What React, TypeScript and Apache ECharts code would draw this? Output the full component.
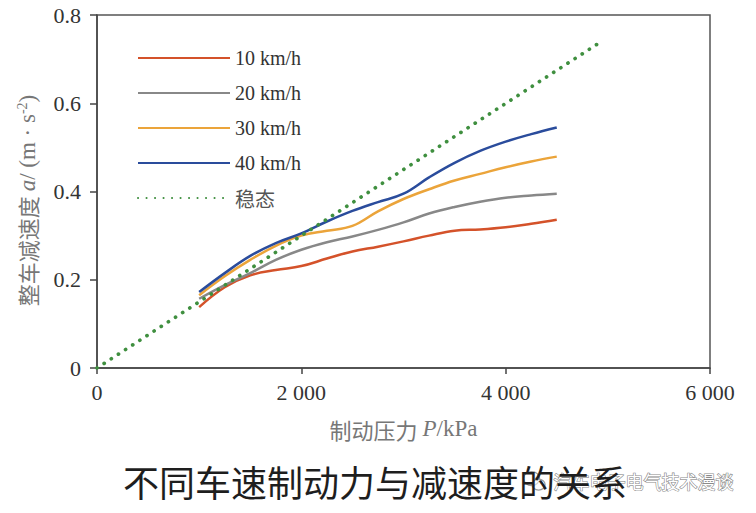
import React, { useEffect, useRef } from "react";
import * as echarts from "echarts";

const pressures = [1000, 1250, 1500, 1750, 2000, 2250, 2500, 2750, 3000, 3250, 3500, 3750, 4000, 4250, 4500];
const decel10 = [0.138, 0.183, 0.21, 0.222, 0.231, 0.248, 0.264, 0.275, 0.287, 0.300, 0.311, 0.314, 0.319, 0.327, 0.336];
const decel20 = [0.157, 0.188, 0.215, 0.245, 0.268, 0.285, 0.298, 0.313, 0.33, 0.35, 0.365, 0.377, 0.386, 0.391, 0.395];
const decel30 = [0.165, 0.208, 0.245, 0.277, 0.300, 0.311, 0.322, 0.355, 0.383, 0.405, 0.425, 0.44, 0.455, 0.468, 0.479];
const decel40 = [0.172, 0.215, 0.254, 0.283, 0.305, 0.332, 0.356, 0.376, 0.395, 0.432, 0.465, 0.492, 0.513, 0.53, 0.545];
const stableP = [0, 4950];
const stableA = [0, 0.742];
const seriesNames = ["10 km/h", "20 km/h", "30 km/h", "40 km/h", "稳态"];
const xTicks = ["0", "2 000", "4 000", "6 000"];

const colors = ["#d4522a", "#888888", "#eba43a", "#2a4c9c", "#3f8f3f"];

const serif = "Liberation Serif";
const cjk = "Noto Sans CJK SC";

function pairs(xs: number[], ys: number[]) {
  return xs.map((x, i) => [x, ys[i]]);
}

export default function App() {
  const ref = useRef<HTMLDivElement>(null);
  useEffect(() => {
    if (!ref.current) return;
    const chart = echarts.init(ref.current, null, { renderer: "svg" });
    const curves = [decel10, decel20, decel30, decel40];
    const series: any[] = curves.map((vals, i) => ({
      name: seriesNames[i],
      type: "line",
      data: pairs(pressures, vals),
      smooth: 0.4,
      symbol: "none",
      lineStyle: { color: colors[i], width: 2.5 },
      itemStyle: { color: colors[i] },
    }));
    series.push({
      name: seriesNames[4],
      type: "line",
      data: pairs(stableP, stableA),
      symbol: "none",
      lineStyle: { color: colors[4], width: 3.7, type: [0.1, 8.4], cap: "round" },
      itemStyle: { color: colors[4] },
    });
    chart.setOption({
      animation: false,
      backgroundColor: "#ffffff",
      grid: {
        left: 97,
        right: 46,
        top: 15,
        bottom: 145,
        containLabel: false,
        show: true,
        borderColor: "#555",
        borderWidth: 1.5,
      },
      title: {
        text: "不同车速制动力与减速度的关系",
        left: 370,
        textAlign: "center",
        top: 458,
        textStyle: {
          fontFamily: cjk,
          fontSize: 36,
          fontWeight: "normal",
          color: "#1e1e1e",
        },
      },
      legend: {
        data: seriesNames,
        orient: "vertical",
        left: 132,
        top: 43,
        itemWidth: 92,
        itemHeight: 14,
        itemGap: 15,
        itemStyle: { opacity: 0 },
        textStyle: { fontFamily: serif, fontSize: 20, color: "#333", rich: { c: { fontFamily: cjk, fontSize: 20, color: "#555" } } },
        formatter: (n: string) => (n === "稳态" ? "{c|稳态}" : n),
      },
      xAxis: {
        type: "value",
        min: 0,
        max: 6000,
        interval: 2000,
        name: "{c|制动压力 }{i|P}{l|/kPa}",
        nameLocation: "middle",
        nameGap: 49,
        nameTextStyle: {
          rich: {
            c: { fontFamily: cjk, fontSize: 22, color: "#777" },
            i: { fontFamily: serif, fontSize: 23, color: "#777", fontStyle: "italic" },
            l: { fontFamily: serif, fontSize: 23, color: "#777" },
          },
        },
        axisLine: { lineStyle: { color: "#444", width: 1.5 } },
        axisTick: { show: true, length: 6, lineStyle: { color: "#444", width: 1.5 } },
        axisLabel: {
          margin: 13,
          fontFamily: serif,
          fontSize: 22,
          color: "#333",
          formatter: (v: number) => xTicks[Math.round(v / 2000)] ?? String(v),
        },
        splitLine: { show: false },
      },
      yAxis: {
        type: "value",
        min: 0,
        max: 0.8,
        interval: 0.2,
        name: "{c|整车减速度 }{i|a}{l|/ (m · s}{s|-2}{l|)}",
        nameLocation: "middle",
        nameRotate: 90,
        nameGap: 58,
        nameTextStyle: {
          padding: [0, 18, 0, 0],
          rich: {
            c: { fontFamily: cjk, fontSize: 22, color: "#777" },
            i: { fontFamily: serif, fontSize: 23, color: "#777", fontStyle: "italic" },
            l: { fontFamily: serif, fontSize: 23, color: "#777" },
            s: { fontFamily: serif, fontSize: 14, color: "#777", verticalAlign: "top", padding: [0, 0, 10, 0] },
          },
        },
        axisLine: { show: true, lineStyle: { color: "#444", width: 1.5 } },
        axisTick: { show: true, length: 7, lineStyle: { color: "#444", width: 1.5 } },
        axisLabel: { margin: 16, fontFamily: serif, fontSize: 22, color: "#333" },
        splitLine: { show: false },
      },
      graphic: [
        {
          type: "group",
          left: 523,
          top: 471,
          children: [
            { type: "ellipse", shape: { cx: 8, cy: 8, rx: 8, ry: 7 }, style: { fill: "rgba(255,255,255,0.6)", stroke: "#999", lineWidth: 1.2 } },
            { type: "ellipse", shape: { cx: 15, cy: 14, rx: 6.5, ry: 5.5 }, style: { fill: "rgba(255,255,255,0.6)", stroke: "#999", lineWidth: 1.2 } },
          ],
        },
        {
          type: "text",
          left: 553,
          top: 471,
          style: {
            text: "汽车电子电气技术漫谈",
            font: "18px 'Noto Sans CJK SC', sans-serif",
            fill: "#ffffff",
            stroke: "#8a8a8a",
            lineWidth: 1.2,
          },
        },
      ],
      series,
    });
    return () => chart.dispose();
  }, []);
  return <div ref={ref} style={{ width: 756, height: 513, margin: -8 }} />;
}
